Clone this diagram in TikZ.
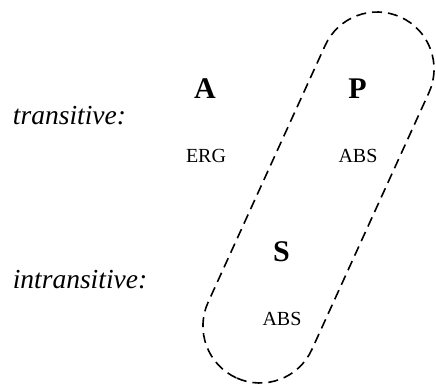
\documentclass[tikz,border=0pt]{standalone}
\usepackage{fontspec}
\setmainfont{Liberation Serif}
\begin{document}
\begin{tikzpicture}[x=1pt,y=1pt,
  lbl/.style={font=\fontsize{27.5}{30}\selectfont\itshape, anchor=base, inner sep=0pt},
  role/.style={font=\fontsize{30}{32}\selectfont\bfseries, anchor=base, inner sep=0pt},
  cas/.style={font=\fontsize{20}{22}\selectfont, anchor=base, inner sep=0pt},
  grp/.style={draw=black, line width=1.6pt, dash pattern=on 10pt off 6pt}]
\useasboundingbox (0,0) rectangle (436,388);
\node[lbl] (tr) at (69.5,263) {transitive:};
\node[lbl] (intr) at (80,99) {intransitive:};
\node[role] (A) at (205,289) {A};
\node[role] (P) at (357.5,289) {P};
\node[role] (S) at (281.5,126) {S};
\node[cas] (erg) at (206,225) {ERG};
\node[cas] (absP) at (358,225) {ABS};
\node[cas] (absS) at (282,63) {ABS};
\begin{scope}[shift={(318.5,190.5)}, rotate=65.5]
\draw[grp, rounded corners=57pt] (-198.2,-57) rectangle (198.2,57);
\end{scope}
\end{tikzpicture}
\end{document}
